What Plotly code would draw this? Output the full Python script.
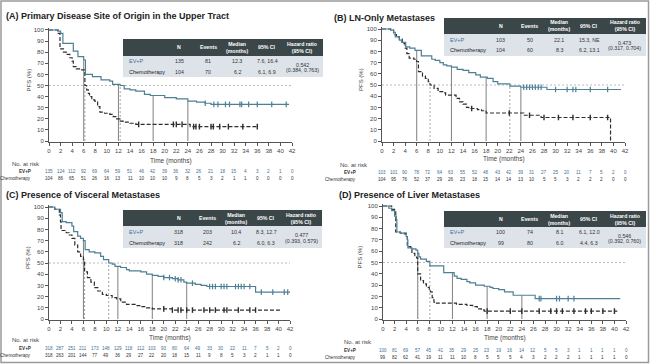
import plotly.graph_objects as go

W, H = 650, 364
FONT = "Liberation Sans, Arial, sans-serif"
EVP_COLOR = "#4d7f95"
EVP_TEXT = "#3f6f95"
CHEMO_COLOR = "#2e2e2e"

# ---------------- DATA ----------------
time_ticks = list(range(0, 43, 2))
pfs_ticks = list(range(0, 101, 10))
table_header = ["", "N", "Events", "Median<br>(months)", "95% CI", "Hazard ratio<br>(95% CI)"]

# Panel A
A_title = "(A) Primary Disease Site of Origin in the Upper Tract"
A_evp_t = [0, 1.5, 2.0, 2.4, 4.2, 5.0, 6.0, 6.3, 7.5, 9.0, 10.5, 11.0, 12.3, 13.0, 14.0, 15.0, 16.5, 17.5, 20.0, 22.0, 24.0, 25.5, 27.0, 28.0, 41.5]
A_evp_s = [100, 99, 97, 88, 81, 76, 73, 60, 58, 55, 54, 51, 50, 47, 46, 45, 42, 41, 39, 38, 36, 35, 34, 33, 33]
A_chemo_t = [0, 1.6, 1.9, 2.5, 3.0, 3.6, 4.0, 4.2, 4.7, 5.5, 6.2, 6.5, 6.8, 7.0, 7.4, 7.9, 8.4, 8.8, 9.6, 10.5, 11.1, 11.7, 12.3, 12.8, 14.0, 15.0, 24.4, 36.0]
A_chemo_s = [100, 97, 83, 80, 78, 75, 72, 67, 65, 64, 50, 46, 43, 40, 37, 36, 31, 26, 25, 24, 22, 20, 18, 17, 16, 15, 13, 13]
A_evp_cens = [27, 28.5, 29.2, 30.5, 31.2, 33, 33.3, 34.5, 36, 38.5, 41]
A_chemo_cens = [15.5, 21.5, 22, 23, 25, 25.4, 26, 28, 28.4, 29.5, 31, 33.5, 36]
A_landmarks = [6, 12, 18, 24]
A_medians = [6.2, 12.3]
A_row_evp = ["EV+P", "135", "81", "12.3", "7.6, 16.4"]
A_row_chemo = ["Chemotherapy", "104", "70", "6.2", "6.1, 6.9"]
A_hr = ["0.542", "(0.384, 0.763)"]
A_risk_evp = [135, 124, 112, 92, 69, 64, 59, 51, 46, 42, 39, 36, 32, 26, 21, 18, 15, 4, 3, 2, 1, 0]
A_risk_chemo = [104, 86, 65, 51, 26, 16, 13, 11, 10, 10, 10, 9, 8, 5, 3, 2, 1, 1, 0, 0, 0, 0]

# Panel B
B_title = "(B) LN-Only Metastases"
B_evp_t = [0, 1.5, 2.0, 2.3, 3.0, 3.4, 4.1, 4.8, 5.7, 6.8, 8.6, 9.2, 10.0, 10.6, 11.2, 12.0, 13.0, 14.0, 15.0, 16.2, 17.0, 18.2, 19.2, 20.0, 22.1, 24.0, 28.5, 41.3]
B_evp_s = [100, 99, 97, 93, 90, 88, 84, 83, 81, 76, 73, 72, 70, 68, 67, 66, 64, 63, 61, 59, 57, 56, 53, 51, 49, 48, 46, 46]
B_chemo_t = [0, 1.5, 2.0, 2.5, 3.0, 3.5, 4.0, 4.3, 4.7, 5.5, 6.0, 6.3, 7.0, 7.5, 8.0, 8.3, 9.0, 9.7, 10.5, 11.0, 12.8, 13.4, 14.0, 14.6, 15.0, 16.5, 17.2, 18.0, 24.5, 27.5, 39.5, 39.5]
B_chemo_s = [100, 99, 95, 93, 91, 87, 83, 78, 74, 73, 71, 62, 58, 56, 53, 50, 47, 44, 43, 41, 38, 35, 33, 30, 29, 28, 27, 25, 23, 21, 21, 0]
B_evp_cens = [24.5, 25, 25.5, 26, 26.5, 27, 27.5, 30, 32, 33, 33.5, 36, 39]
B_chemo_cens = [15.5, 22, 25.5, 28, 30.5, 33, 36, 39]
B_landmarks = [6, 12, 18, 24]
B_medians = [8.3, 22.1]
B_row_evp = ["EV+P", "103", "50", "22.1", "15.3, NE"]
B_row_chemo = ["Chemotherapy", "104", "60", "8.3", "6.2, 13.1"]
B_hr = ["0.473", "(0.317, 0.704)"]
B_risk_evp = [103, 101, 90, 78, 72, 64, 63, 55, 52, 48, 43, 42, 39, 31, 27, 25, 20, 11, 7, 5, 2, 0]
B_risk_chemo = [104, 95, 76, 52, 37, 29, 26, 23, 18, 15, 14, 14, 13, 10, 5, 5, 3, 2, 2, 2, 0, 0]

# Panel C
C_title = "(C) Presence of Visceral Metastases"
C_evp_t = [0, 1.0, 2.0, 2.3, 3.0, 4.0, 4.3, 5.0, 5.5, 6.0, 6.3, 7.0, 8.0, 9.0, 9.5, 10.4, 11.0, 11.5, 12.5, 13.5, 14.0, 16.0, 17.0, 18.0, 19.0, 20.0, 21.5, 22.5, 23.5, 24.0, 25.5, 26.5, 27.5, 36.0, 42.0]
C_evp_s = [100, 98, 95, 87, 86, 83, 78, 74, 72, 70, 62, 60, 59, 56, 53, 50, 49, 47, 46, 44, 43, 42, 40, 39, 38, 37, 36, 35, 33, 32, 31, 30, 29, 24, 24]
C_chemo_t = [0, 1.0, 1.8, 2.0, 2.1, 3.0, 3.5, 4.0, 4.5, 5.0, 5.5, 6.0, 6.2, 6.7, 7.3, 7.9, 8.5, 9.3, 10.0, 11.0, 11.8, 12.5, 13.5, 15.0, 16.0, 17.0, 18.0, 21.5, 40.5]
C_chemo_s = [100, 98, 93, 87, 79, 77, 75, 72, 66, 60, 56, 53, 42, 37, 33, 28, 25, 22, 21, 19, 18, 15, 13, 12, 11, 10, 9, 8, 8]
C_evp_cens = [20, 21, 22, 22.5, 23, 25, 28, 28.5, 29, 30, 30.5, 31, 32.5, 33, 33.5, 34, 35, 37, 39, 41, 41.6]
C_chemo_cens = [20, 21.5, 22.5, 23, 24, 25, 27, 28, 29, 30.5, 31, 33, 35, 36]
C_landmarks = [6, 12, 18, 24]
C_medians = [6.2, 10.4]
C_row_evp = ["EV+P", "318", "203", "10.4", "8.3, 12.7"]
C_row_chemo = ["Chemotherapy", "318", "242", "6.2", "6.0, 6.3"]
C_hr = ["0.477", "(0.393, 0.579)"]
C_risk_evp = [318, 287, 251, 211, 173, 148, 129, 118, 112, 103, 93, 80, 64, 49, 33, 30, 22, 11, 7, 5, 2, 0]
C_risk_chemo = [318, 263, 201, 144, 77, 49, 36, 29, 27, 22, 20, 18, 15, 11, 9, 8, 5, 3, 2, 1, 1, 0]

# Panel D
D_title = "(D) Presence of Liver Metastases"
D_evp_t = [0, 1.0, 1.5, 2.0, 2.3, 2.4, 3.0, 3.7, 4.0, 4.2, 4.3, 5.0, 5.7, 6.0, 6.2, 6.5, 7.5, 8.1, 10.5, 12.3, 12.8, 13.5, 14.5, 15.0, 16.0, 17.5, 18.5, 19.0, 20.0, 21.0, 22.5, 26.3, 41.0]
D_evp_s = [100, 98, 96, 91, 88, 77, 76, 75, 73, 70, 63, 62, 61, 58, 55, 53, 51, 47, 41, 38, 36, 35, 33, 32, 30, 29, 28, 27, 26, 24, 21, 18, 18]
D_chemo_t = [0, 1.5, 2.0, 2.2, 3.0, 4.0, 4.2, 4.8, 5.0, 5.5, 5.8, 6.0, 6.5, 7.0, 7.5, 8.0, 8.2, 8.5, 8.8, 9.0, 12.7, 14.5, 15.5, 16.3, 17.0, 17.5, 40.5]
D_chemo_s = [100, 97, 96, 77, 76, 73, 64, 62, 58, 56, 54, 40, 34, 31, 28, 25, 24, 19, 15, 14, 13, 12, 11, 9, 8, 7, 7]
D_evp_cens = [27, 27.3, 30, 30.5, 32, 33]
D_chemo_cens = [18, 22, 24, 27, 29, 30, 31, 33, 35, 36, 38, 40]
D_landmarks = [6, 12, 18, 24]
D_medians = [6.0, 8.1]
D_row_evp = ["EV+P", "100", "74", "8.1", "6.1, 12.0"]
D_row_chemo = ["Chemotherapy", "99", "80", "6.0", "4.4, 6.3"]
D_hr = ["0.546", "(0.392, 0.760)"]
D_risk_evp = [100, 81, 69, 57, 45, 41, 35, 29, 25, 23, 19, 16, 14, 12, 5, 5, 3, 1, 1, 1, 1, 0]
D_risk_chemo = [99, 82, 62, 41, 19, 11, 11, 10, 8, 5, 5, 5, 4, 3, 2, 2, 2, 1, 1, 1, 1, 0]

# ---------------- LAYOUT GEOMETRY (pixels) ----------------
geo = {
    "A": dict(x0=49, x42=292, y0=141, y100=30, tx=4, ty=16, time_y=161, pfs_x=28,
              rh_x=10, rh_y=164, evp_y=171, chemo_y=178, lab_r=33,
              tl=123, tr=323, tt=39, th=56, tb=77),
    "B": dict(x0=382, x42=625, y0=141, y100=29, tx=332, ty=18, time_y=159, pfs_x=361,
              rh_x=338, rh_y=165, evp_y=172, chemo_y=179, lab_r=358,
              tl=444, tr=646, tt=18, th=34, tb=56),
    "C": dict(x0=49, x42=290, y0=319, y100=207, tx=4, ty=195, time_y=338, pfs_x=28,
              rh_x=10, rh_y=340, evp_y=348, chemo_y=355, lab_r=33,
              tl=123, tr=322, tt=210, th=226, tb=248),
    "D": dict(x0=383, x42=626, y0=319, y100=206, tx=337, ty=195, time_y=338, pfs_x=359,
              rh_x=342, rh_y=342, evp_y=350, chemo_y=357, lab_r=358,
              tl=444, tr=646, tt=211, th=227, tb=248),
}

panels = [
    ("A", A_title, A_evp_t, A_evp_s, A_chemo_t, A_chemo_s, A_evp_cens, A_chemo_cens, A_landmarks, A_medians, A_row_evp, A_row_chemo, A_hr, A_risk_evp, A_risk_chemo),
    ("B", B_title, B_evp_t, B_evp_s, B_chemo_t, B_chemo_s, B_evp_cens, B_chemo_cens, B_landmarks, B_medians, B_row_evp, B_row_chemo, B_hr, B_risk_evp, B_risk_chemo),
    ("C", C_title, C_evp_t, C_evp_s, C_chemo_t, C_chemo_s, C_evp_cens, C_chemo_cens, C_landmarks, C_medians, C_row_evp, C_row_chemo, C_hr, C_risk_evp, C_risk_chemo),
    ("D", D_title, D_evp_t, D_evp_s, D_chemo_t, D_chemo_s, D_evp_cens, D_chemo_cens, D_landmarks, D_medians, D_row_evp, D_row_chemo, D_hr, D_risk_evp, D_risk_chemo),
]


def step_at(ts, ss, x):
    v = ss[0]
    for t, s in zip(ts, ss):
        if t <= x:
            v = s
    return v


def px(x):
    return x / W


def py(y):
    return 1 - y / H


fig = go.Figure()
annotations = []
shapes = []
layout_axes = {}

YLO, YHI = -1.0, 101.5

for i, (key, title, et, es, ct, cs, ecens, ccens, lands, meds, revp, rchemo, hr, rk_e, rk_c) in enumerate(panels):
    n = i + 1
    g = geo[key]
    xa = "x" if n == 1 else f"x{n}"
    ya = "y" if n == 1 else f"y{n}"
    xk = "xaxis" if n == 1 else f"xaxis{n}"
    yk = "yaxis" if n == 1 else f"yaxis{n}"
    yppu = (g["y0"] - g["y100"]) / 100.0
    ybot = g["y0"] + (0 - YLO) * yppu
    ytop = g["y100"] - (YHI - 100) * yppu
    axis_common = dict(showgrid=False, zeroline=False, showline=True, linecolor="#555", linewidth=1,
                       ticks="outside", ticklen=3, tickwidth=1, tickcolor="#555", automargin=False,
                       tickfont=dict(family=FONT, size=6, color="#444"))
    layout_axes[xk] = dict(domain=[px(g["x0"]), px(g["x42"])], range=[0, 42], tickvals=time_ticks,
                           anchor=ya, **axis_common)
    layout_axes[yk] = dict(domain=[py(ybot), py(ytop)], range=[YLO, YHI], tickvals=pfs_ticks,
                           anchor=xa, **axis_common)

    # reference lines
    shapes.append(dict(type="line", xref=xa, yref=ya, x0=0, x1=42, y0=50, y1=50, layer="below",
                       line=dict(color="#aaaaaa", width=0.8, dash="2px,2px")))
    for lm in lands:
        shapes.append(dict(type="line", xref=xa, yref=ya, x0=lm, x1=lm, y0=0, y1=step_at(et, es, lm),
                           layer="below", line=dict(color="#808080", width=1)))
    for md in meds:
        shapes.append(dict(type="line", xref=xa, yref=ya, x0=md, x1=md, y0=0, y1=50, layer="below",
                           line=dict(color="#9a9a9a", width=0.9, dash="2px,2px")))

    # curves
    fig.add_trace(go.Scatter(x=ct, y=cs, mode="lines", line_shape="hv", xaxis=xa, yaxis=ya,
                             line=dict(color=CHEMO_COLOR, width=1.2, dash="4px,2px"), showlegend=False,
                             hoverinfo="skip"))
    fig.add_trace(go.Scatter(x=et, y=es, mode="lines", line_shape="hv", xaxis=xa, yaxis=ya,
                             line=dict(color=EVP_COLOR, width=1.2), showlegend=False, hoverinfo="skip"))
    fig.add_trace(go.Scatter(x=ccens, y=[step_at(ct, cs, c) for c in ccens], mode="markers",
                             xaxis=xa, yaxis=ya, showlegend=False, hoverinfo="skip",
                             marker=dict(symbol="line-ns-open", size=4, color=CHEMO_COLOR,
                                         line=dict(width=1.4, color=CHEMO_COLOR))))
    fig.add_trace(go.Scatter(x=ecens, y=[step_at(et, es, c) for c in ecens], mode="markers",
                             xaxis=xa, yaxis=ya, showlegend=False, hoverinfo="skip",
                             marker=dict(symbol="line-ns-open", size=4, color=EVP_COLOR,
                                         line=dict(width=1.2, color=EVP_COLOR))))

    # titles and axis labels
    annotations.append(dict(text=f"<b>{title}</b>", x=px(g["tx"]), y=py(g["ty"]), xref="paper", yref="paper",
                            xanchor="left", yanchor="middle", showarrow=False,
                            font=dict(family=FONT, size=9, color="#222")))
    annotations.append(dict(text="Time (months)", x=px((g["x0"] + g["x42"]) / 2), y=py(g["time_y"]),
                            xref="paper", yref="paper", xanchor="center", yanchor="middle", showarrow=False,
                            font=dict(family=FONT, size=6.5, color="#444")))
    annotations.append(dict(text="PFS (%)", x=px(g["pfs_x"]), y=py((g["y0"] + g["y100"]) / 2 - 5),
                            xref="paper", yref="paper", xanchor="center", yanchor="middle", showarrow=False,
                            textangle=-90, font=dict(family=FONT, size=6, color="#444")))

    # numbers at risk
    annotations.append(dict(text="No. at risk", x=px(g["rh_x"]), y=py(g["rh_y"]), xref="paper", yref="paper",
                            xanchor="left", yanchor="middle", showarrow=False,
                            font=dict(family=FONT, size=6, color="#444")))
    annotations.append(dict(text="<b>EV+P</b>", x=px(g["lab_r"]), y=py(g["evp_y"]), xref="paper", yref="paper",
                            xanchor="right", yanchor="middle", showarrow=False,
                            font=dict(family=FONT, size=4.6, color="#333")))
    annotations.append(dict(text="Chemotherapy", x=px(g["lab_r"]), y=py(g["chemo_y"]), xref="paper", yref="paper",
                            xanchor="right", yanchor="middle", showarrow=False,
                            font=dict(family=FONT, size=4.6, color="#333")))
    for k, tv in enumerate(time_ticks):
        annotations.append(dict(text=str(rk_e[k]), x=tv, y=py(g["evp_y"]), xref=xa, yref="paper",
                                xanchor="center", yanchor="middle", showarrow=False,
                                font=dict(family=FONT, size=4.6, color=EVP_TEXT)))
        annotations.append(dict(text=str(rk_c[k]), x=tv, y=py(g["chemo_y"]), xref=xa, yref="paper",
                                xanchor="center", yanchor="middle", showarrow=False,
                                font=dict(family=FONT, size=4.6, color="#333")))

    # summary table
    tl, tr, tt, th, tb = g["tl"], g["tr"], g["tt"], g["th"], g["tb"]
    shapes.append(dict(type="rect", xref="paper", yref="paper", x0=px(tl), x1=px(tr), y0=py(th), y1=py(tt),
                       fillcolor="#3b4649", line=dict(width=0), layer="above"))
    shapes.append(dict(type="rect", xref="paper", yref="paper", x0=px(tl), x1=px(tr), y0=py(tb), y1=py(th),
                       fillcolor="#dde3e9", line=dict(width=0), layer="above"))
    wt = tr - tl
    col_x = [tl + 4, tl + 0.28 * wt, tl + 0.425 * wt, tl + 0.57 * wt, tl + 0.72 * wt, tl + 0.895 * wt]
    hy = (tt + th) / 2
    for c, htxt in enumerate(table_header):
        if htxt:
            annotations.append(dict(text=f"<b>{htxt}</b>", x=px(col_x[c]), y=py(hy), xref="paper", yref="paper",
                                    xanchor="center", yanchor="middle", showarrow=False,
                                    font=dict(family=FONT, size=5.2, color="white")))
    rh = (tb - th) / 2
    for r, row in enumerate([revp, rchemo]):
        ry = th + rh * (r + 0.5)
        for c, val in enumerate(row):
            if c == 0:
                annotations.append(dict(text=val, x=px(col_x[0]), y=py(ry), xref="paper", yref="paper",
                                        xanchor="left", yanchor="middle", showarrow=False,
                                        font=dict(family=FONT, size=5.5,
                                                  color=EVP_TEXT if r == 0 else "#222")))
            else:
                annotations.append(dict(text=val, x=px(col_x[c]), y=py(ry), xref="paper", yref="paper",
                                        xanchor="center", yanchor="middle", showarrow=False,
                                        font=dict(family=FONT, size=5.3, color="#333")))
    mid = (th + tb) / 2
    annotations.append(dict(text=hr[0], x=px(col_x[5]), y=py(mid - 2), xref="paper", yref="paper",
                            xanchor="center", yanchor="middle", showarrow=False,
                            font=dict(family=FONT, size=5.3, color="#333")))
    annotations.append(dict(text=hr[1], x=px(col_x[5]), y=py(mid + 3.5), xref="paper", yref="paper",
                            xanchor="center", yanchor="middle", showarrow=False,
                            font=dict(family=FONT, size=5.3, color="#333")))

# outer frame
shapes.append(dict(type="rect", xref="paper", yref="paper", x0=px(1), x1=px(W - 1.5), y0=py(H - 1.5), y1=py(1),
                   line=dict(color="#9a9a9a", width=1.5), fillcolor="rgba(0,0,0,0)", layer="above"))

fig.update_layout(width=W, height=H, margin=dict(l=0, r=0, t=0, b=0, pad=0), paper_bgcolor="white",
                  plot_bgcolor="white", showlegend=False, annotations=annotations, shapes=shapes,
                  font=dict(family=FONT), hovermode=False, **layout_axes)

fig.write_html("out.html", config={"displayModeBar": False, "staticPlot": True},
               post_script="document.body.style.margin='0';document.body.style.padding='0';"
                           "document.body.style.overflow='hidden';")
